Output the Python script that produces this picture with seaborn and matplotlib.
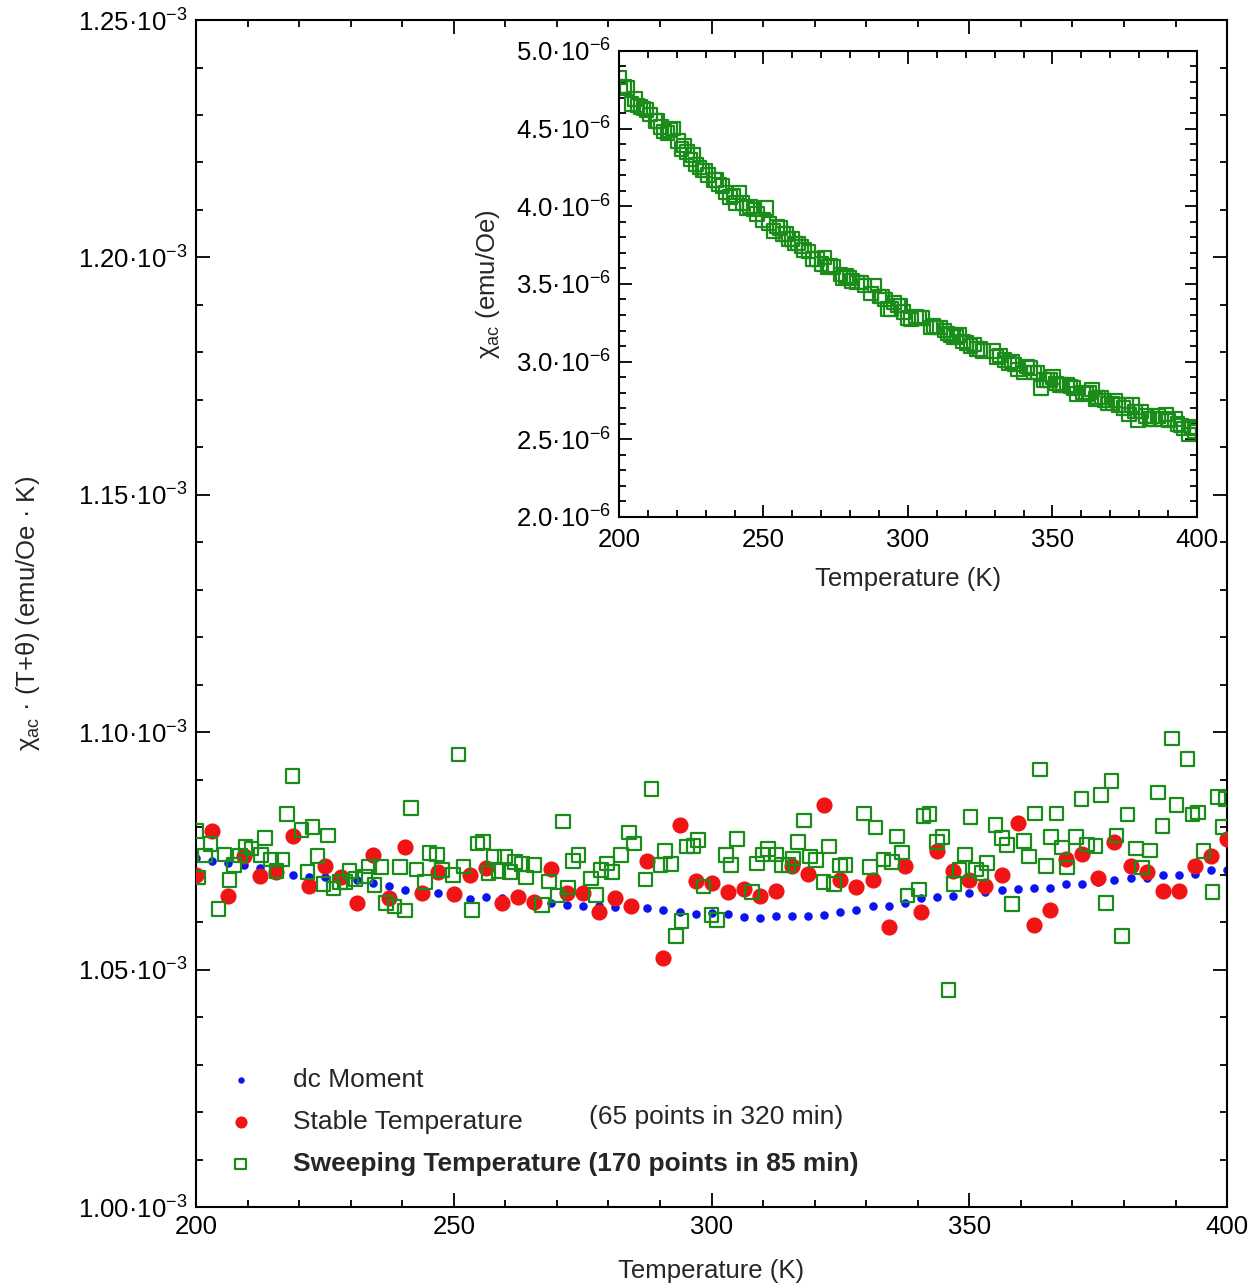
import matplotlib
matplotlib.use("Agg")
import matplotlib.pyplot as plt
from matplotlib.ticker import MultipleLocator, FuncFormatter
import seaborn as sns

# Stable-temperature run and dc moment: 65 temperatures (K)
stable_temp = [200.0, 203.1, 206.3, 209.4, 212.5, 215.6, 218.8, 221.9, 225.0, 228.1,
               231.3, 234.4, 237.5, 240.6, 243.8, 246.9, 250.0, 253.1, 256.3, 259.4,
               262.5, 265.6, 268.8, 271.9, 275.0, 278.1, 281.3, 284.4, 287.5, 290.6,
               293.8, 296.9, 300.0, 303.1, 306.3, 309.4, 312.5, 315.6, 318.8, 321.9,
               325.0, 328.1, 331.3, 334.4, 337.5, 340.6, 343.8, 346.9, 350.0, 353.1,
               356.3, 359.4, 362.5, 365.6, 368.8, 371.9, 375.0, 378.1, 381.3, 384.4,
               387.5, 390.6, 393.8, 396.9, 400.0]

# chi_ac*(T+theta), units of 1e-3 emu/Oe K
dc_moment = [1.0736, 1.0729, 1.0725, 1.0720, 1.0714, 1.0706, 1.0699, 1.0696, 1.0695, 1.0692,
             1.0688, 1.0683, 1.0677, 1.0668, 1.0664, 1.0661, 1.0652, 1.0648, 1.0652, 1.0650,
             1.0647, 1.0643, 1.0640, 1.0636, 1.0635, 1.0633, 1.0632, 1.0631, 1.0630, 1.0626,
             1.0622, 1.0618, 1.0619, 1.0617, 1.0611, 1.0609, 1.0612, 1.0614, 1.0613, 1.0615,
             1.0622, 1.0626, 1.0634, 1.0635, 1.0640, 1.0650, 1.0654, 1.0656, 1.0662, 1.0663,
             1.0668, 1.0670, 1.0672, 1.0671, 1.0680, 1.0680, 1.0684, 1.0688, 1.0692, 1.0693,
             1.0699, 1.0699, 1.0701, 1.0710, 1.0710]

stable = [1.0699, 1.0793, 1.0655, 1.0739, 1.0698, 1.0705, 1.0781, 1.0677, 1.0719, 1.0696,
          1.0640, 1.0741, 1.0650, 1.0759, 1.0661, 1.0706, 1.0659, 1.0699, 1.0715, 1.0641,
          1.0652, 1.0643, 1.0711, 1.0661, 1.0661, 1.0622, 1.0650, 1.0633, 1.0729, 1.0525,
          1.0804, 1.0687, 1.0682, 1.0664, 1.0669, 1.0655, 1.0666, 1.0718, 1.0701, 1.0847,
          1.0688, 1.0675, 1.0688, 1.0590, 1.0718, 1.0622, 1.0749, 1.0708, 1.0689, 1.0676,
          1.0699, 1.0808, 1.0594, 1.0626, 1.0734, 1.0743, 1.0694, 1.0769, 1.0718, 1.0706,
          1.0666, 1.0666, 1.0719, 1.0740, 1.0775]

# Sweeping-temperature run (K)
sweep_temp = [200.0, 200.5, 201.7, 202.8, 204.4, 205.5, 206.5, 207.4, 208.5, 209.6,
              210.8, 212.6, 213.4, 214.6, 215.6, 216.8, 217.7, 218.7, 220.5, 221.6,
              222.6, 223.6, 224.7, 225.6, 226.7, 227.9, 228.9, 229.8, 230.9, 232.8,
              233.6, 234.6, 235.9, 236.9, 238.5, 239.6, 240.5, 241.7, 242.8, 244.4,
              245.3, 246.7, 247.7, 249.9, 250.9, 251.9, 253.5, 254.6, 255.7, 256.7,
              257.8, 258.7, 259.9, 260.9, 261.9, 263.2, 264.0, 265.6, 267.1, 268.5,
              270.1, 271.2, 272.2, 273.1, 274.2, 276.6, 277.6, 278.6, 279.7, 280.7,
              282.4, 284.0, 285.0, 287.2, 288.4, 290.1, 291.0, 292.1, 293.1, 294.2,
              295.2, 296.5, 297.4, 298.4, 300.0, 301.1, 302.8, 303.8, 304.9, 307.8,
              308.8, 309.9, 311.0, 312.6, 313.7, 314.9, 315.8, 316.8, 317.9, 319.1,
              320.3, 321.7, 322.8, 323.8, 324.9, 326.0, 329.6, 330.7, 331.8, 333.4,
              335.0, 336.0, 336.9, 338.0, 340.2, 341.1, 342.3, 343.7, 344.8, 346.0,
              347.0, 348.1, 349.2, 350.2, 351.3, 352.4, 353.4, 355.1, 356.3, 357.3,
              358.3, 360.6, 361.6, 362.7, 363.7, 364.9, 365.8, 366.9, 368.0, 369.0,
              370.7, 371.8, 372.8, 374.5, 375.5, 376.5, 377.6, 378.6, 379.6, 380.7,
              382.3, 383.5, 385.1, 386.6, 387.5, 389.3, 390.2, 392.3, 393.3, 394.4,
              395.4, 397.2, 398.2, 399.2, 399.8]

sweep = [1.0792, 1.0694, 1.0740, 1.0765, 1.0628, 1.0743, 1.0689, 1.0720, 1.0740, 1.0759,
         1.0755, 1.0741, 1.0777, 1.0732, 1.0708, 1.0732, 1.0828, 1.0908, 1.0794, 1.0706,
         1.0800, 1.0739, 1.0680, 1.0783, 1.0671, 1.0685, 1.0685, 1.0708, 1.0691, 1.0696,
         1.0717, 1.0678, 1.0716, 1.0640, 1.0633, 1.0716, 1.0625, 1.0840, 1.0711, 1.0685,
         1.0746, 1.0743, 1.0710, 1.0699, 1.0953, 1.0717, 1.0626, 1.0766, 1.0769, 1.0703,
         1.0738, 1.0708, 1.0738, 1.0706, 1.0727, 1.0722, 1.0694, 1.0720, 1.0636, 1.0686,
         1.0656, 1.0812, 1.0673, 1.0729, 1.0741, 1.0692, 1.0657, 1.0710, 1.0724, 1.0706,
         1.0741, 1.0789, 1.0766, 1.0690, 1.0880, 1.0720, 1.0750, 1.0722, 1.0571, 1.0603,
         1.0759, 1.0760, 1.0773, 1.0675, 1.0615, 1.0604, 1.0741, 1.0720, 1.0775, 1.0664,
         1.0724, 1.0743, 1.0754, 1.0743, 1.0720, 1.0720, 1.0734, 1.0769, 1.0814, 1.0738,
         1.0731, 1.0685, 1.0759, 1.0680, 1.0719, 1.0720, 1.0829, 1.0716, 1.0799, 1.0732,
         1.0727, 1.0780, 1.0747, 1.0656, 1.0669, 1.0824, 1.0828, 1.0769, 1.0779, 1.0457,
         1.0680, 1.0710, 1.0743, 1.0822, 1.0711, 1.0704, 1.0725, 1.0805, 1.0777, 1.0762,
         1.0638, 1.0771, 1.0738, 1.0829, 1.0922, 1.0718, 1.0779, 1.0829, 1.0757, 1.0715,
         1.0779, 1.0859, 1.0764, 1.0760, 1.0868, 1.0640, 1.0897, 1.0783, 1.0571, 1.0827,
         1.0755, 1.0715, 1.0751, 1.0873, 1.0802, 1.0987, 1.0847, 1.0944, 1.0827, 1.0831,
         1.0750, 1.0663, 1.0864, 1.0800, 1.0859]

# chi_ac of the sweep, units of 1e-6 emu/Oe (inset)
sweep_chi = [4.83, 4.77, 4.77, 4.76, 4.66, 4.69, 4.65, 4.64, 4.63, 4.62,
             4.59, 4.55, 4.55, 4.51, 4.48, 4.47, 4.49, 4.50, 4.42, 4.37,
             4.39, 4.35, 4.30, 4.33, 4.27, 4.25, 4.23, 4.23, 4.20, 4.17,
             4.17, 4.14, 4.13, 4.09, 4.06, 4.07, 4.02, 4.09, 4.02, 3.99,
             4.00, 3.98, 3.95, 3.91, 3.99, 3.89, 3.84, 3.87, 3.86, 3.82,
             3.82, 3.79, 3.79, 3.76, 3.76, 3.74, 3.72, 3.71, 3.66, 3.66,
             3.63, 3.67, 3.61, 3.62, 3.61, 3.56, 3.54, 3.55, 3.54, 3.52,
             3.51, 3.51, 3.49, 3.44, 3.49, 3.42, 3.42, 3.40, 3.34, 3.34,
             3.38, 3.36, 3.36, 3.32, 3.28, 3.27, 3.29, 3.28, 3.28, 3.22,
             3.23, 3.22, 3.22, 3.20, 3.18, 3.17, 3.16, 3.16, 3.17, 3.13,
             3.12, 3.10, 3.11, 3.08, 3.08, 3.07, 3.07, 3.03, 3.04, 3.01,
             2.99, 3.00, 2.98, 2.95, 2.93, 2.97, 2.96, 2.93, 2.93, 2.83,
             2.88, 2.88, 2.88, 2.90, 2.86, 2.85, 2.85, 2.85, 2.84, 2.83,
             2.79, 2.80, 2.79, 2.80, 2.82, 2.76, 2.77, 2.77, 2.75, 2.73,
             2.73, 2.75, 2.72, 2.70, 2.72, 2.66, 2.72, 2.68, 2.62, 2.68,
             2.65, 2.63, 2.63, 2.65, 2.63, 2.66, 2.62, 2.63, 2.60, 2.59,
             2.57, 2.53, 2.58, 2.55, 2.57]

BLUE = "#0a14f0"
RED = "#f01414"
GREEN = "#1a8c1a"
FS = 18.5
LEG_FS = 19

sns.set_style("ticks")
plt.rcParams["font.family"] = ["Liberation Sans", "DejaVu Sans"]
plt.rcParams["mathtext.fontset"] = "custom"
plt.rcParams["mathtext.rm"] = "Liberation Sans"
plt.rcParams["mathtext.it"] = "Liberation Sans:italic"
plt.rcParams["mathtext.bf"] = "Liberation Sans:bold"


def sci_fmt(exp, dec):
    return FuncFormatter(lambda v, p: f"{v:.{dec}f}·10$^{{{exp}}}$")


def style_axes(ax, xmaj, xmin, ymaj, ymin, big, small):
    ax.xaxis.set_major_locator(MultipleLocator(xmaj))
    ax.xaxis.set_minor_locator(MultipleLocator(xmin))
    ax.yaxis.set_major_locator(MultipleLocator(ymaj))
    ax.yaxis.set_minor_locator(MultipleLocator(ymin))
    ax.tick_params(which="both", direction="in", top=True, right=True,
                   width=1.3, labelsize=FS, colors="black")
    ax.tick_params(which="major", length=big, pad=6)
    ax.tick_params(which="minor", length=small)
    for s in ax.spines.values():
        s.set_linewidth(1.5)
        s.set_color("black")


fig = plt.figure(figsize=(12.58, 12.86), dpi=100)
ax = fig.add_axes([0.1558, 0.0614, 0.8196, 0.9230])

sns.scatterplot(x=stable_temp, y=dc_moment, ax=ax, marker="o", s=38, color=BLUE,
                linewidth=0, label="dc Moment", zorder=2)
sns.scatterplot(x=stable_temp, y=stable, ax=ax, marker="o", s=135, color=RED,
                linewidth=0, label="Stable Temperature", zorder=3)
sns.scatterplot(x=sweep_temp, y=sweep, ax=ax, marker="s", s=95, facecolors="none",
                edgecolor=GREEN, linewidth=1.6,
                label="Sweeping Temperature (170 points in 85 min)", zorder=4)

ax.set_xlim(200, 400)
ax.set_ylim(1.00, 1.25)
style_axes(ax, 50, 10, 0.05, 0.01, 10, 5)
ax.yaxis.set_major_formatter(sci_fmt("-3", 2))
ax.set_xlabel("Temperature (K)", fontsize=FS, labelpad=14)
ax.set_ylabel("χ${}_{\\mathrm{ac}}$ · (T+θ) (emu/Oe · K)", fontsize=FS, labelpad=26)

leg = ax.legend(loc="lower left", bbox_to_anchor=(0.0074, 0.006), frameon=False,
                fontsize=LEG_FS, labelspacing=0.68, handlelength=1.0,
                handletextpad=1.5, markerscale=0.75)
leg.get_texts()[2].set_fontweight("bold")
ax.text(0.381, 0.0755, "(65 points in 320 min)", transform=ax.transAxes,
        fontsize=LEG_FS, va="center", ha="left")

# inset: raw susceptibility of the sweep
ins = fig.add_axes([0.4920, 0.5980, 0.4595, 0.3624])
sns.scatterplot(x=sweep_temp, y=sweep_chi, ax=ins, marker="s", s=95, facecolors="none",
                edgecolor=GREEN, linewidth=1.6, legend=False)
ins.set_xlim(200, 400)
ins.set_ylim(2.0, 5.0)
style_axes(ins, 50, 10, 0.5, 0.1, 9, 5)
ins.tick_params(axis="x", which="major", pad=8)
ins.yaxis.set_major_formatter(sci_fmt("-6", 1))
ins.set_xlabel("Temperature (K)", fontsize=FS, labelpad=11)
ins.set_ylabel("χ${}_{\\mathrm{ac}}$ (emu/Oe)", fontsize=FS, labelpad=10)

fig.savefig("out.png", dpi=100)
